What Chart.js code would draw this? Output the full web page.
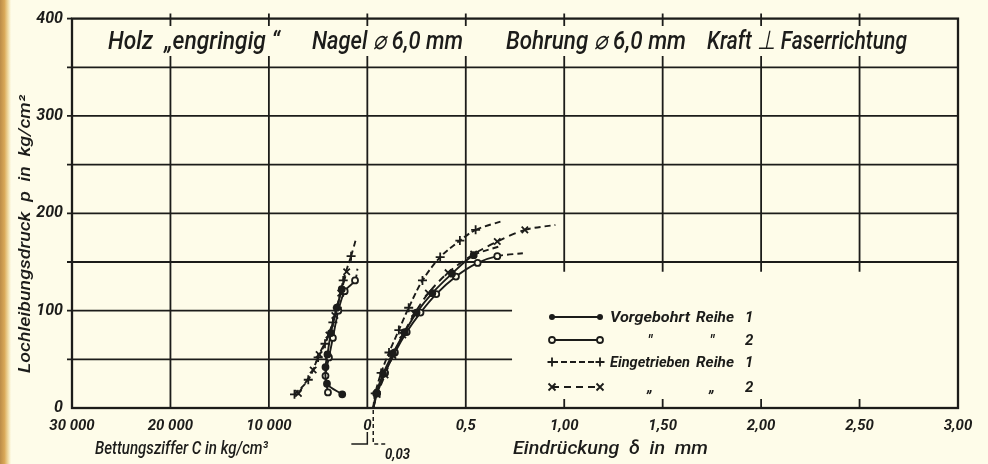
<!DOCTYPE html>
<html lang="de">
<head>
<meta charset="utf-8">
<title>Lochleibungsdruck – Holz engringig</title>
<script src="https://cdn.jsdelivr.net/npm/chart.js@4.4.1/dist/chart.umd.min.js"></script>
<style>
  html, body { margin: 0; padding: 0; background: #fefce9; }
  #wrap { width: 988px; height: 464px; }
</style>
</head>
<body>
<div id="wrap"><canvas id="grafico" width="988" height="464"></canvas></div>
<script>
// Beschriftung der Achsen (links Bettungsziffer C, rechts Eindrückung δ)
const xTickLabels = ['30 000', '20 000', '10 000', '0', '0,5', '1,00', '1,50', '2,00', '2,50', '3,00'];
const yTickStep = 100;

// Legende
const legendWords = [
  ['Vorgebohrt', 'Reihe', '1'],
  ['"', '"', '2'],
  ['Eingetrieben', 'Reihe', '1'],
  ['„', '„', '2']
];

// rechte Seite: Eindrückung δ in mm -> Lochleibungsdruck p in kg/cm²
const vorgebohrt1Delta = [0.03, 0.045, 0.08, 0.13, 0.19, 0.25, 0.33, 0.43, 0.54, 0.67];
const vorgebohrt1P     = [0, 15, 35, 56, 78, 98, 118, 138, 157, 166];
const vorgebohrt2Delta = [0.03, 0.05, 0.09, 0.14, 0.20, 0.27, 0.35, 0.45, 0.56, 0.66, 0.79];
const vorgebohrt2P     = [0, 15, 36, 57, 78, 98, 117, 135, 149, 156, 159];
const eingetrieben1Delta = [0.03, 0.04, 0.07, 0.11, 0.16, 0.21, 0.28, 0.37, 0.47, 0.55, 0.685];
const eingetrieben1P     = [0, 15, 36, 57, 80, 103, 131, 155, 172, 183, 192];
const eingetrieben2Delta = [0.03, 0.05, 0.09, 0.13, 0.18, 0.24, 0.31, 0.41, 0.54, 0.66, 0.80, 0.955];
const eingetrieben2P     = [0, 14, 34, 54, 75, 97, 118, 139, 158, 171, 183, 188];

// linke Seite: Bettungsziffer C in kg/cm³ -> p in kg/cm²
const vorgebohrt1C  = [2550, 4100, 4250, 4050, 3700, 3100, 2600];
const vorgebohrt1CP = [14, 25, 42, 55, 77, 103, 122];
const vorgebohrt2C  = [4000, 4250, 3900, 3500, 2950, 2300, 1250, 1000];
const vorgebohrt2CP = [16, 33, 52, 72, 100, 120, 131, 143];
const eingetrieben1C  = [7400, 6000, 5000, 4300, 3500, 3050, 2450, 1650, 1200];
const eingetrieben1CP = [14, 29, 52, 66, 88, 103, 131, 156, 172];
const eingetrieben2C  = [7000, 5500, 4900, 3900, 3300, 2700, 2100];
const eingetrieben2CP = [15, 39, 55, 75, 95, 118, 140];

const INK = '#1c1c1a';
const PAPER = '#fefce9';
const FONT = "'Liberation Sans Narrow', 'Arial Narrow', Roboto, 'Liberation Sans', sans-serif";

// ein Kästchen = 10 000 kg/cm³ links bzw. 0,5 mm rechts
const colFromC = c => -c / 10000;
const colFromDelta = d => d / 0.5;

function punkte(xs, ps, toCol) {
  return xs.map((v, i) => ({ x: toCol(v), y: ps[i] }));
}

// Stil je Reihe
const stile = {
  v1: { pointStyle: 'circle', fill: INK, dash: [], r: 3 },
  v2: { pointStyle: 'circle', fill: PAPER, dash: [], r: 3 },
  e1: { pointStyle: 'cross', fill: INK, dash: [6, 3], r: 4.5 },
  e2: { pointStyle: 'crossRot', fill: INK, dash: [7, 5], r: 4.5 }
};

function serie(data, stil, offenesEnde) {
  const n = data.length;
  return {
    data: data,
    borderColor: INK,
    borderWidth: 1.9,
    borderDash: stil.dash,
    tension: 0.3,
    pointStyle: stil.pointStyle,
    pointBackgroundColor: stil.fill,
    pointBorderColor: INK,
    pointBorderWidth: 1.8,
    pointRadius: ctx => {
      if (ctx.raw && ctx.raw.y === 0) return 0;
      if (offenesEnde && ctx.dataIndex === n - 1) return 0;
      return stil.r;
    },
    segment: {
      borderDash: ctx => (offenesEnde && ctx.p1DataIndex === n - 1) ? [6, 4] : undefined
    }
  };
}

const datasets = [
  serie(punkte(vorgebohrt1Delta, vorgebohrt1P, colFromDelta), stile.v1, true),
  serie(punkte(vorgebohrt2Delta, vorgebohrt2P, colFromDelta), stile.v2, true),
  serie(punkte(eingetrieben1Delta, eingetrieben1P, colFromDelta), stile.e1, true),
  serie(punkte(eingetrieben2Delta, eingetrieben2P, colFromDelta), stile.e2, true),
  serie(punkte(vorgebohrt1C, vorgebohrt1CP, colFromC), stile.v1, false),
  serie(punkte(vorgebohrt2C, vorgebohrt2CP, colFromC), stile.v2, true),
  serie(punkte(eingetrieben1C, eingetrieben1CP, colFromC), stile.e1, true),
  serie(punkte(eingetrieben2C, eingetrieben2CP, colFromC), stile.e2, false)
];

// Text auf eine feste Breite bringen
function passText(c, text, x0, x1, y, font) {
  c.font = font;
  const w = c.measureText(text).width;
  c.save();
  c.translate(x0, y);
  c.scale((x1 - x0) / w, 1);
  c.fillText(text, 0, 0);
  c.restore();
}

function marker(c, art, x, y) {
  c.save();
  c.strokeStyle = INK;
  c.fillStyle = INK;
  c.lineWidth = 1.8;
  c.beginPath();
  if (art === 'v1') {
    c.arc(x, y, 3, 0, Math.PI * 2); c.fill();
  } else if (art === 'v2') {
    c.arc(x, y, 3, 0, Math.PI * 2); c.fillStyle = PAPER; c.fill(); c.stroke();
  } else if (art === 'e1') {
    c.moveTo(x - 4.5, y); c.lineTo(x + 4.5, y); c.moveTo(x, y - 4.5); c.lineTo(x, y + 4.5); c.stroke();
  } else {
    c.moveTo(x - 3.5, y - 3.5); c.lineTo(x + 3.5, y + 3.5); c.moveTo(x + 3.5, y - 3.5); c.lineTo(x - 3.5, y + 3.5); c.stroke();
  }
  c.restore();
}

const hintergrund = {
  id: 'hintergrund',
  beforeDraw(chart) {
    const c = chart.ctx;
    c.save();
    c.fillStyle = PAPER;
    c.fillRect(0, 0, chart.width, chart.height);
    const g = c.createLinearGradient(0, 0, 11, 0);
    g.addColorStop(0, '#bb8c48');
    g.addColorStop(0.4, '#d9a857');
    g.addColorStop(0.75, '#f1dea8');
    g.addColorStop(1, PAPER);
    c.fillStyle = g;
    c.fillRect(0, 0, 11, chart.height);
    c.restore();
  }
};

const raster = {
  id: 'raster',
  beforeDatasetsDraw(chart) {
    const { ctx: c, chartArea: a } = chart;
    const x = chart.scales.x, y = chart.scales.y;
    const line = (x1, y1, x2, y2) => { c.beginPath(); c.moveTo(x1, y1); c.lineTo(x2, y2); c.stroke(); };
    c.save();
    c.strokeStyle = INK;
    c.lineWidth = 1.8;
    // waagerechte Linien alle 50 kg/cm², unten rechts frei für die Legende
    for (let p = 50; p < 400; p += 50) {
      const py = y.getPixelForValue(p);
      const xEnd = p < 150 ? x.getPixelForValue(1.47) : a.right;
      line(a.left - 5, py, xEnd, py);
    }
    line(a.left - 5, a.top, a.left, a.top);
    // senkrechte Linien
    for (let col = -2; col <= 5; col++) {
      const px = x.getPixelForValue(col);
      const yEnd = col >= 2 ? y.getPixelForValue(140) : a.bottom;
      line(px, a.top - 5, px, yEnd);
      if (col >= 2) line(px, a.bottom, px, a.bottom - 9);
    }
    c.lineWidth = 2.3;
    c.strokeRect(a.left, a.top, a.right - a.left, a.bottom - a.top);
    c.restore();
  }
};

const beschriftung = {
  id: 'beschriftung',
  afterDatasetsDraw(chart) {
    const { ctx: c, chartArea: a } = chart;
    const x = chart.scales.x;
    c.save();
    c.textBaseline = 'alphabetic';

    // Kopfzeile
    const kopf = [
      ['Holz  „engringig “', 108, 280],
      ['Nagel ⌀ 6,0 mm', 312, 463],
      ['Bohrung ⌀ 6,0 mm', 506, 686],
      ['Kraft ⊥ Faserrichtung', 707, 907]
    ];
    kopf.forEach(([t, x0, x1]) => {
      c.fillStyle = PAPER;
      c.fillRect(x0 - 4, 26, x1 - x0 + 8, 30);
      c.fillStyle = INK;
      passText(c, t, x0, x1, 49, 'italic 500 26px ' + FONT);
    });

    // Achsentitel
    c.fillStyle = INK;
    passText(c, 'Bettungsziffer C in kg/cm³', 95, 268, 454, 'italic 500 18px ' + FONT);
    passText(c, 'Eindrückung  δ  in  mm', 513, 708, 454, 'italic 500 18px ' + FONT);
    c.save();
    c.translate(30, 373);
    c.rotate(-Math.PI / 2);
    passText(c, 'Lochleibungsdruck  p  in  kg/cm²', 0, 278, 0, 'italic 500 16px ' + FONT);
    c.restore();

    // Maß 0,03 mm unter dem Nullpunkt
    const x0 = x.getPixelForValue(0);
    const x3 = x.getPixelForValue(colFromDelta(0.03));
    c.strokeStyle = INK;
    c.lineWidth = 1.5;
    c.beginPath();
    c.moveTo(x0 - 16, 444); c.lineTo(x0, 444); c.lineTo(x0, 432);
    c.stroke();
    c.setLineDash([4, 3]);
    c.beginPath();
    c.moveTo(x3, a.bottom + 2); c.lineTo(x3, 444); c.lineTo(x3 + 15, 444);
    c.stroke();
    c.setLineDash([]);
    passText(c, '0,03', 385, 410, 459, 'bold italic 15px ' + FONT);

    // Legende
    const arten = ['v1', 'v2', 'e1', 'e2'];
    const zeilen = [317, 340, 362, 387];
    arten.forEach((art, i) => {
      const yy = zeilen[i];
      c.lineWidth = 1.8;
      c.setLineDash(stile[art].dash);
      c.beginPath(); c.moveTo(552, yy); c.lineTo(600, yy); c.stroke();
      c.setLineDash([]);
      marker(c, art, 552, yy);
      marker(c, art, 600, yy);
      const [w1, w2, w3] = legendWords[i];
      const f = 'bold italic 15px ' + FONT;
      if (w1.length > 1) {
        passText(c, w1, 610, 690, yy + 5, f);
        passText(c, w2, 696, 734, yy + 5, f);
      } else {
        c.font = f;
        c.textAlign = 'center';
        c.fillText(w1, 650, yy + 5);
        c.fillText(w2, 712, yy + 5);
        c.textAlign = 'left';
      }
      c.font = f;
      c.fillText(w3, 745, yy + 5);
    });
    c.restore();
  }
};

const ctx = document.getElementById('grafico').getContext('2d');

new Chart(ctx, {
  type: 'line',
  data: { datasets: datasets },
  options: {
    responsive: false,
    animation: false,
    events: [],
    layout: { padding: { top: 16, right: 30, left: 0, bottom: 0 } },
    plugins: { legend: { display: false }, tooltip: { enabled: false } },
    scales: {
      x: {
        type: 'linear',
        min: -3,
        max: 6,
        grid: { display: false, drawTicks: false },
        border: { display: false },
        ticks: {
          stepSize: 1,
          padding: 9,
          color: INK,
          font: { family: FONT, size: 15, style: 'italic', weight: 'bold' },
          maxRotation: 0,
          callback: v => xTickLabels[Math.round(v) + 3]
        },
        afterFit: s => { s.height = 56; }
      },
      y: {
        min: 0,
        max: 400,
        grid: { display: false, drawTicks: false },
        border: { display: false },
        ticks: {
          stepSize: yTickStep,
          padding: 9,
          color: INK,
          font: { family: FONT, size: 16, style: 'italic', weight: 'bold' }
        },
        afterFit: s => { s.width = 72; }
      }
    }
  },
  plugins: [hintergrund, raster, beschriftung]
});
</script>
</body>
</html>
